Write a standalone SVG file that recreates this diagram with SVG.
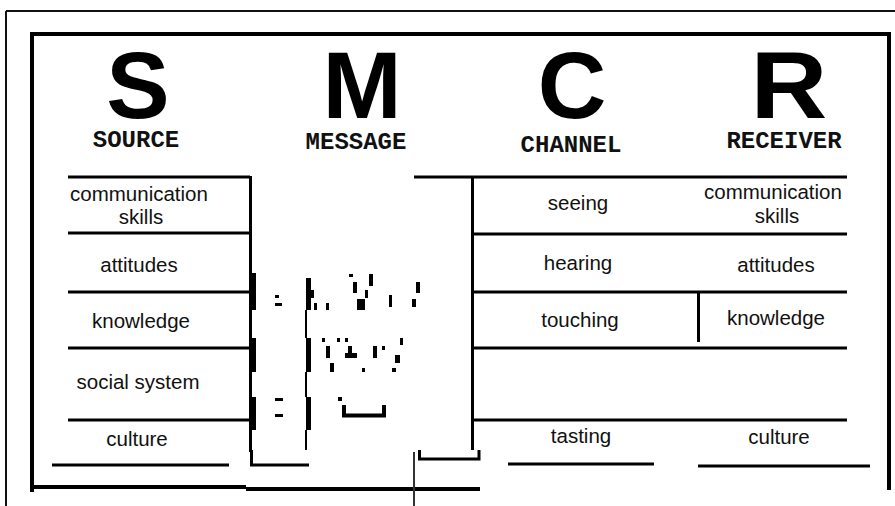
<svg xmlns="http://www.w3.org/2000/svg" width="895" height="506" viewBox="0 0 895 506">
<style>
.big{font-family:"Liberation Sans",Arial,sans-serif;font-weight:bold;font-size:95px;fill:#000;text-anchor:middle}
.hd{font-family:"Liberation Mono","Courier New",monospace;font-weight:bold;font-size:24px;fill:#111;text-anchor:middle}
.t{font-family:"Liberation Sans",Arial,sans-serif;font-size:20.5px;fill:#111;text-anchor:middle}
.ln{stroke:#000;stroke-width:3;fill:none}
.fr{stroke:#000;stroke-width:4;fill:none}
.thin{stroke:#111;stroke-width:2;fill:none}
.nz rect{fill:#000}
</style>
<rect width="895" height="506" fill="#fff"/>
<g id="frame">
<path class="thin" d="M6 11H895M6 11V506"/>
<path class="fr" d="M30 34H890M32 34V492M889 32V490"/>
<path class="fr" d="M30 487H246M246 489H480"/>
<path d="M414 452V506" stroke="#333" stroke-width="2"/>
</g>
<g id="source">
<text class="big" x="138" y="118">S</text>
<text class="hd" x="136" y="147">SOURCE</text>
<path class="ln" d="M68 177H250M68 233H250M68 292H250M68 348H250M68 420H250M250.5 176V452"/>
<text class="t" x="139" y="201">communication</text>
<text class="t" x="141" y="224">skills</text>
<text class="t" x="139" y="272">attitudes</text>
<text class="t" x="141" y="328">knowledge</text>
<text class="t" x="138" y="389">social system</text>
<text class="t" x="137" y="446">culture</text>
<path class="ln" d="M52 465H229"/>
</g>
<g id="message">
<text class="big" x="362" y="118">M</text>
<text class="hd" x="356" y="149">MESSAGE</text>
</g>
<g id="channel">
<text class="big" x="572" y="118">C</text>
<text class="hd" x="571" y="152">CHANNEL</text>
<path class="ln" d="M414 177H847M472 234H847M472 292H847M472 348H847M472 420H847M472.5 176V450"/>
<text class="t" x="578" y="210">seeing</text>
<text class="t" x="578" y="270">hearing</text>
<text class="t" x="580" y="327">touching</text>
<text class="t" x="581" y="443">tasting</text>
<path class="ln" d="M508 464H654"/>
</g>
<g id="receiver">
<text class="big" transform="translate(789 118) scale(1.12 1)" x="0" y="0" font-size="88">R</text>
<text class="hd" x="784" y="148" font-size="21">RECEIVER</text>
<path class="ln" d="M698.5 293V342"/>
<text class="t" x="773" y="199">communication</text>
<text class="t" x="777" y="223">skills</text>
<text class="t" x="776" y="272">attitudes</text>
<text class="t" x="776" y="325">knowledge</text>
<text class="t" x="779" y="444">culture</text>
<path class="ln" d="M698 466H870"/>
</g>
<g id="connectors">
<path class="ln" d="M251.5 450V465H309"/>
<path class="ln" d="M419.5 450V459H479V450"/>
</g>
<g class="nz" id="noise">
<rect x="250" y="273" width="6" height="37"/>
<rect x="250" y="338" width="6" height="34"/>
<rect x="250" y="397" width="6" height="33"/>
<rect x="306" y="278" width="5" height="32"/>
<rect x="306" y="290" width="8" height="8"/>
<rect x="306" y="338" width="5" height="34"/>
<rect x="306" y="397" width="5" height="33"/>
<rect x="305" y="310" width="2" height="28" fill="#888"/>
<rect x="305" y="372" width="2" height="25" fill="#888"/>
<rect x="305" y="430" width="2" height="20" fill="#888"/>
<rect x="275" y="295" width="4" height="3"/>
<rect x="275" y="303" width="7" height="3"/>
<rect x="275" y="398" width="8" height="3"/>
<rect x="275" y="414" width="8" height="3"/>
<rect x="349" y="274" width="4" height="3"/>
<rect x="369" y="274" width="4" height="12"/>
<rect x="353" y="282" width="4" height="11"/>
<rect x="416" y="282" width="4" height="11"/>
<rect x="365" y="290" width="3" height="8"/>
<rect x="314" y="303" width="3" height="7"/>
<rect x="326" y="303" width="3" height="7"/>
<rect x="357" y="299" width="8" height="11"/>
<rect x="389" y="295" width="3" height="12"/>
<rect x="412" y="299" width="4" height="8"/>
<rect x="322" y="338" width="3" height="4"/>
<rect x="337" y="338" width="3" height="4"/>
<rect x="345" y="338" width="3" height="4"/>
<rect x="400" y="338" width="3" height="7"/>
<rect x="326" y="346" width="4" height="12"/>
<rect x="348" y="346" width="4" height="12"/>
<rect x="345" y="353" width="12" height="5"/>
<rect x="373" y="346" width="4" height="12"/>
<rect x="382" y="346" width="3" height="4"/>
<rect x="395" y="355" width="5" height="8"/>
<rect x="330" y="363" width="4" height="9"/>
<rect x="362" y="368" width="3" height="4"/>
<rect x="392" y="368" width="4" height="4"/>
<rect x="338" y="397" width="4" height="4"/>
<path d="M344 405V415.5H384V405" stroke="#000" stroke-width="4" fill="none"/>
</g>
</svg>
